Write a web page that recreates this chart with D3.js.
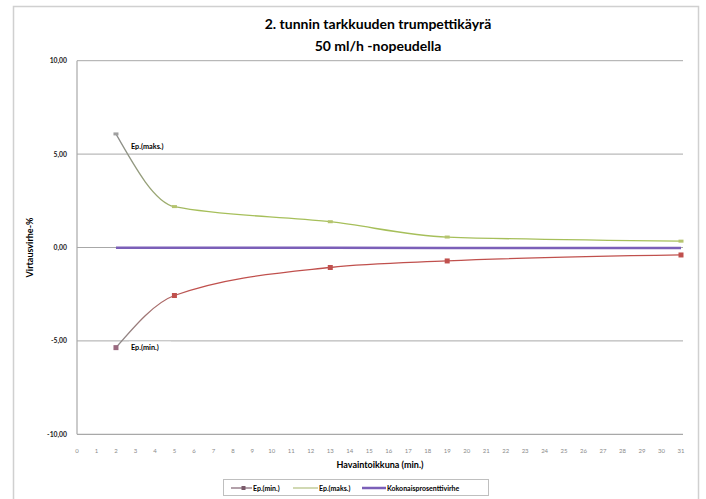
<!DOCTYPE html>
<html><head><meta charset="utf-8">
<script src="https://cdn.jsdelivr.net/npm/d3@7"></script>
<style>body{margin:0;background:#fff}svg{display:block}text{font-family:Lato,"Open Sans",sans-serif;fill:#000}</style>
</head><body>
<svg id="c" width="706" height="499"></svg>
<script>
const categories = d3.range(0, 32);
const obsMinutes = [2, 5, 13, 19, 31];
const epMin = [-5.36, -2.57, -1.07, -0.72, -0.40];
const epMax = [6.08, 2.19, 1.38, 0.56, 0.34];
const totalErr = [-0.02, -0.02, -0.02, -0.03, -0.03];
const yTicks = [-10, -5, 0, 5, 10];
const seriesNames = ["Ep.(min.)", "Ep.(maks.)", "Kokonaisprosenttivirhe"];

(function () {
const svg = d3.select("#c");
const pL = 77, pR = 683, pT = 60.7, pB = 434.3;
const x = d3.scaleLinear().domain([0, 31]).range([pL, 681]);
const y = d3.scaleLinear().domain([-10, 10]).range([pB, pT]);

// chart frame
svg.append("rect").attr("x", 13.5).attr("y", 6.5).attr("width", 685).attr("height", 500)
  .attr("fill", "#fff").attr("stroke", "#d0d0d0").attr("stroke-width", 1.5);

// titles
svg.append("text").attr("x", 378).attr("y", 29).attr("text-anchor", "middle")
  .attr("font-size", 14).attr("font-weight", "bold").text("2. tunnin tarkkuuden trumpettikäyrä");
svg.append("text").attr("x", 378).attr("y", 51).attr("text-anchor", "middle")
  .attr("font-size", 14).attr("font-weight", "bold").text("50 ml/h -nopeudella");

// gridlines
svg.append("g").selectAll("line").data(yTicks.filter(d => d !== -10)).join("line")
  .attr("x1", pL).attr("x2", pR).attr("y1", d => y(d)).attr("y2", d => y(d))
  .attr("stroke", "#a8a8a8").attr("stroke-width", 1);

// axes lines
svg.append("line").attr("x1", pL).attr("x2", pL).attr("y1", pT).attr("y2", pB)
  .attr("stroke", "#a8a8a8").attr("stroke-width", 1.2);
svg.append("line").attr("x1", pL).attr("x2", pR).attr("y1", pB).attr("y2", pB)
  .attr("stroke", "#a8a8a8").attr("stroke-width", 1.2);

// y tick labels
const fmt = d => d3.format(".2f")(d).replace(".", ",").replace("−", "-");
svg.append("g").selectAll("text").data(yTicks).join("text")
  .attr("x", 67).attr("y", d => y(d) + 2.5).attr("text-anchor", "end")
  .attr("font-size", 6.8).attr("font-weight", "bold").style("fill", "#222")
  .text(fmt);

// x tick labels
svg.append("g").selectAll("text").data(categories).join("text")
  .attr("x", d => x(d)).attr("y", 453).attr("text-anchor", "middle")
  .attr("font-size", 6).style("fill", "#8a8a8a").text(d => d);

// axis titles
svg.append("text").attr("x", 380).attr("y", 468).attr("text-anchor", "middle")
  .attr("font-size", 9).attr("font-weight", "bold").text("Havaintoikkuna (min.)");
svg.append("text").attr("transform", `translate(33,${y(0)}) rotate(-90)`).attr("text-anchor", "middle")
  .attr("font-size", 9).attr("font-weight", "bold").text("Virtausvirhe-%");

// gradients for start segments
const defs = svg.append("defs");
function grad(id, c) {
  const g = defs.append("linearGradient").attr("id", id).attr("gradientUnits", "userSpaceOnUse")
    .attr("x1", x(2)).attr("x2", x(6)).attr("y1", 0).attr("y2", 0);
  g.append("stop").attr("offset", 0).attr("stop-color", "#8c8c8c");
  g.append("stop").attr("offset", 1).attr("stop-color", c);
}
grad("gMin", "#c0504d");
grad("gMax", "#a6bf5a");

const line = d3.line().x(d => x(d[0])).y(d => y(d[1])).curve(d3.curveMonotoneX);
const zip = v => obsMinutes.map((m, i) => [m, v[i]]);

// total error
svg.append("path").datum(zip(totalErr)).attr("d", d3.line().x(d => x(d[0])).y(d => y(d[1])))
  .attr("fill", "none").attr("stroke", "#7b5fb8").attr("stroke-width", 2.5);

// ep max
svg.append("path").datum(zip(epMax)).attr("d", line)
  .attr("fill", "none").attr("stroke", "url(#gMax)").attr("stroke-width", 1.3);
svg.append("g").selectAll("rect").data(zip(epMax)).join("rect")
  .attr("x", d => x(d[0]) - 2.5).attr("y", d => y(d[1]) - 1.5).attr("width", 5).attr("height", 3)
  .attr("fill", (d, i) => i === 0 ? "#a0a0a0" : "#b5c46e");

// ep min
svg.append("path").datum(zip(epMin)).attr("d", line)
  .attr("fill", "none").attr("stroke", "url(#gMin)").attr("stroke-width", 1.3);
svg.append("g").selectAll("rect").data(zip(epMin)).join("rect")
  .attr("x", d => x(d[0]) - 2.5).attr("y", d => y(d[1]) - 2.5).attr("width", 5).attr("height", 5)
  .attr("fill", (d, i) => i === 0 ? "#9a6a80" : "#c0504d");

// data labels
function dataLabel(px, py, t) {
  const g = svg.append("g");
  g.append("rect").attr("x", px).attr("y", py - 8).attr("width", 42).attr("height", 11).attr("fill", "#fff");
  g.append("text").attr("x", px + 2).attr("y", py).attr("font-size", 7.3).attr("font-weight", "bold").text(t);
}
dataLabel(x(2) + 13, y(epMax[0]) + 15, seriesNames[1]);
dataLabel(x(2) + 13, y(epMin[0]) + 2, seriesNames[0]);

// legend
const lg = svg.append("g");
lg.append("rect").attr("x", 223.5).attr("y", 479.5).attr("width", 265).attr("height", 16)
  .attr("fill", "#fff").attr("stroke", "#bfbfbf").attr("stroke-width", 1);
const items = [
  {x: 231, w: 21, c: "#8a6f7c", name: seriesNames[0], mk: "sq"},
  {x: 293, w: 25, c: "#b8c48a", name: seriesNames[1], mk: "dash"},
  {x: 362, w: 24, c: "#7b5fb8", name: seriesNames[2], mk: null}
];
items.forEach(it => {
  lg.append("line").attr("x1", it.x).attr("x2", it.x + it.w).attr("y1", 488).attr("y2", 488)
    .attr("stroke", it.c).attr("stroke-width", it.mk ? 1.3 : 2.5);
  if (it.mk === "sq") lg.append("rect").attr("x", it.x + it.w / 2).attr("y", 486).attr("width", 4).attr("height", 4).attr("fill", "#7a5a6a");
  lg.append("text").attr("x", it.x + it.w + 1).attr("y", 490.5).attr("font-size", 7).attr("font-weight", "bold").text(it.name);
});
})();
</script>
</body></html>
